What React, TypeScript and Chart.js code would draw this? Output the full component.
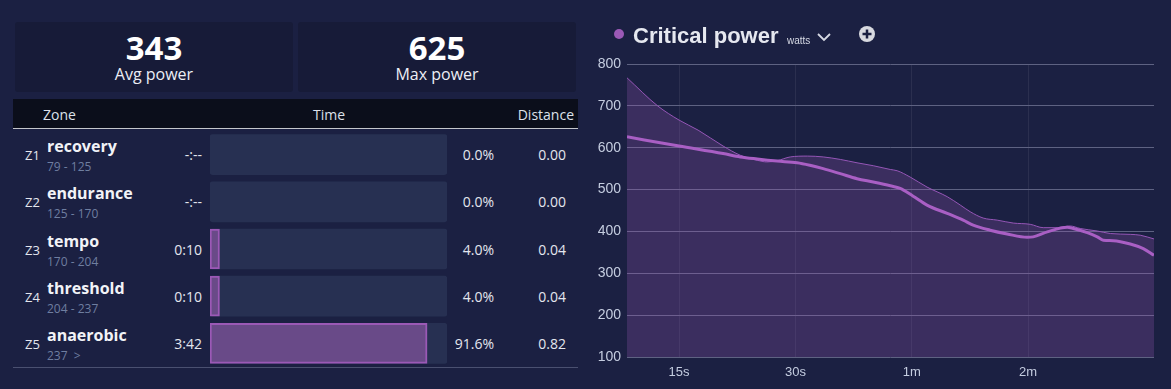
import React, { useEffect, useRef } from 'react';
import { Chart, registerables } from 'chart.js';
Chart.register(...registerables);

// ---- data ----
const statValues = ['343', '625'];
const statLabels = ['Avg power', 'Max power'];

const zoneIds = ['Z1', 'Z2', 'Z3', 'Z4', 'Z5'];
const zoneNames = ['recovery', 'endurance', 'tempo', 'threshold', 'anaerobic'];
const zoneRanges = ['79 - 125', '125 - 170', '170 - 204', '204 - 237', '237  >'];
const zoneTimes = ['-:--', '-:--', '0:10', '0:10', '3:42'];
const zonePercents = [0, 0, 4.0, 4.0, 91.6];
const zoneDistances = ['0.00', '0.00', '0.04', '0.04', '0.82'];

const rideSeconds = [11, 13.2, 15, 16.8, 19.5, 21.6, 23.9, 25.3, 26.9, 29.1, 32.2, 35.4, 39.2, 43.3, 47.7, 52.8, 55, 59.4, 65.7, 74.1, 80.1, 85, 91.8, 99.8, 109.8, 121.5, 131.3, 142.7, 154.2, 163.7, 181.2, 195.8, 220.5, 234, 254];
const rideWatts = [767, 700, 666, 642, 604, 582, 570, 566, 569, 578, 580, 578, 572, 564, 557, 548, 545, 530, 506, 483, 463, 447, 432, 427, 420, 417, 409, 409, 413, 407, 401, 395, 393, 391, 382];

const bestSeconds = [11, 15, 19.5, 21.6, 23.9, 26.9, 30.3, 32.7, 35.4, 39.2, 43.3, 47.7, 52.8, 56, 60.5, 65.7, 74.1, 81.5, 86.5, 95.7, 105.9, 119.3, 123.7, 134.5, 151.5, 157, 170.7, 181.2, 187.8, 199.3, 220.5, 238.3, 254];
const bestWatts = [626, 604, 586, 578, 573, 568, 564, 558, 550, 538, 526, 518, 509, 503, 484, 463, 443, 427, 415, 403, 394, 386, 387, 399, 410, 407, 397, 387, 379, 378, 370, 359, 343];

const xTickSeconds = [15, 30, 60, 120];
const xTickLabels = ['15s', '30s', '1m', '2m'];
const yMin = 100;
const yMax = 800;
const yStep = 100;

const BG = '#1b2042';
const SANS = "'Open Sans', 'Noto Sans', sans-serif";
const CHART_FONT = "'Liberation Sans', Arial, Helvetica, sans-serif";

function ZoneBars() {
  const ref = useRef<HTMLCanvasElement>(null);
  useEffect(() => {
    const chart = new Chart(ref.current!, {
      type: 'bar',
      data: {
        labels: zoneIds,
        datasets: [
          {
            data: zonePercents,
            backgroundColor: '#694a88',
            borderColor: '#9b59b6',
            borderWidth: 2,
            borderSkipped: false,
            barThickness: 40,
            grouped: false,
            order: 1,
          } as any,
          {
            data: zonePercents.map(() => 100),
            backgroundColor: '#273052',
            borderWidth: 0,
            borderRadius: 3,
            borderSkipped: false,
            barThickness: 40,
            grouped: false,
            order: 2,
          } as any,
        ],
      },
      options: {
        indexAxis: 'y',
        animation: false,
        responsive: false,
        maintainAspectRatio: false,
        layout: { padding: 0 },
        plugins: { legend: { display: false }, tooltip: { enabled: false } },
        scales: {
          x: { display: false, min: 0, max: 100 },
          y: { display: false },
        },
      },
    });
    return () => chart.destroy();
  }, []);
  return (
    <canvas
      ref={ref}
      width={237}
      height={236}
      style={{ position: 'absolute', left: 210, top: 131, width: 237, height: 236 }}
    />
  );
}

function CPChart() {
  const ref = useRef<HTMLCanvasElement>(null);
  useEffect(() => {
    const chart = new Chart(ref.current!, {
      type: 'line',
      data: {
        datasets: [
          {
            data: bestSeconds.map((s, i) => ({ x: s, y: bestWatts[i] })),
            borderColor: '#a95fc4',
            borderWidth: 3,
            pointRadius: 0,
            cubicInterpolationMode: 'monotone',
            fill: false,
            order: 0,
          },
          {
            data: rideSeconds.map((s, i) => ({ x: s, y: rideWatts[i] })),
            borderColor: '#9556b6',
            borderWidth: 1,
            pointRadius: 0,
            cubicInterpolationMode: 'monotone',
            fill: 'start',
            backgroundColor: 'rgba(155,89,182,0.25)',
            order: 1,
          },
        ],
      },
      options: {
        animation: false,
        responsive: false,
        maintainAspectRatio: false,
        layout: { padding: { top: 64, right: 17, left: 0, bottom: 0 } },
        plugins: { legend: { display: false }, tooltip: { enabled: false } },
        scales: {
          x: {
            type: 'logarithmic',
            min: 11,
            max: 254,
            bounds: 'data',
            afterBuildTicks: (s: any) => {
              s.ticks = xTickSeconds.map((v) => ({ value: v }));
            },
            afterFit: (s: any) => {
              s.height = 32;
            },
            grid: { color: 'rgba(255,255,255,0.07)', drawTicks: false },
            border: { display: false },
            ticks: {
              autoSkip: false,
              maxRotation: 0,
              padding: 8,
              color: '#c5cde0',
              font: { size: 13, family: CHART_FONT },
              callback: (v: any) => {
                const i = xTickSeconds.indexOf(Number(v));
                return i >= 0 ? xTickLabels[i] : '';
              },
            },
          },
          y: {
            min: yMin,
            max: yMax,
            afterFit: (s: any) => {
              s.width = 37;
            },
            grid: { color: '#5e6282', drawTicks: false },
            border: { display: false },
            ticks: {
              stepSize: yStep,
              padding: 6,
              color: '#c5cde0',
              font: { size: 14, family: CHART_FONT },
            },
          },
        },
      },
    } as any);
    return () => chart.destroy();
  }, []);
  return (
    <canvas
      ref={ref}
      width={581}
      height={389}
      style={{ position: 'absolute', left: 590, top: 0, width: 581, height: 389 }}
    />
  );
}

const abs = (o: React.CSSProperties): React.CSSProperties => ({ position: 'absolute', ...o });

function centerText(
  text: string,
  cy: number,
  style: React.CSSProperties,
  key?: string | number
) {
  return (
    <div
      key={key}
      style={abs({
        top: cy - 12,
        height: 24,
        lineHeight: '24px',
        whiteSpace: 'pre',
        ...style,
      })}
    >
      {text}
    </div>
  );
}

export default function App() {
  const rowCenters = zoneIds.map((_, i) => 154 + 47.25 * i);
  return (
    <div
      style={{
        position: 'fixed',
        left: 0,
        top: 0,
        width: 1171,
        height: 389,
        background: BG,
        overflow: 'hidden',
        fontFamily: SANS,
      }}
    >
      {/* stat boxes */}
      {statValues.map((v, i) => (
        <div
          key={v}
          style={abs({
            left: 15 + i * 283,
            top: 22,
            width: 278,
            height: 70,
            background: '#171b38',
            borderRadius: 3,
          })}
        >
          <div
            style={abs({
              left: 0,
              width: 278,
              top: 7,
              textAlign: 'center',
              fontSize: 33,
              fontWeight: 700,
              lineHeight: '38px',
              color: '#ffffff',
            })}
          >
            {v}
          </div>
          <div
            style={abs({
              left: 0,
              width: 278,
              top: 41,
              textAlign: 'center',
              fontSize: 16,
              lineHeight: '22px',
              color: '#eceef5',
            })}
          >
            {statLabels[i]}
          </div>
        </div>
      ))}

      {/* header band */}
      <div
        style={abs({
          left: 13,
          top: 99,
          width: 565,
          height: 29,
          background: '#0b0e1b',
          borderBottom: '1px solid #c4c6cc',
        })}
      />
      {centerText('Zone', 115, { left: 43, fontSize: 14, color: '#dde1ea' })}
      {centerText('Time', 115, { left: 279, width: 100, textAlign: 'center', fontSize: 14, color: '#dde1ea' })}
      {centerText('Distance', 115, { left: 474, width: 100, textAlign: 'right', fontSize: 14, color: '#dde1ea' })}

      {/* zone rows */}
      {zoneIds.map((z, i) => {
        const cy = rowCenters[i];
        return (
          <React.Fragment key={z}>
            {centerText(z, cy + 1, { left: 25, fontSize: 13, color: '#e4e6ee' })}
            {centerText(zoneNames[i], cy - 8, { left: 47, fontSize: 16, fontWeight: 700, color: '#f2f3f7' })}
            {centerText(zoneRanges[i], cy + 13, { left: 47, fontSize: 12, color: '#6f7ea0' })}
            {centerText(zoneTimes[i], cy + 1, { left: 102, width: 100, textAlign: 'right', fontSize: 14, color: '#e4e6ee' })}
            {centerText(zonePercents[i].toFixed(1) + '%', cy + 1, { left: 394, width: 100, textAlign: 'right', fontSize: 14, color: '#e4e6ee' })}
            {centerText(zoneDistances[i], cy + 1, { left: 466, width: 100, textAlign: 'right', fontSize: 14, color: '#e4e6ee' })}
          </React.Fragment>
        );
      })}
      <ZoneBars />
      <div style={abs({ left: 13, top: 367, width: 565, height: 1, background: '#4a5070' })} />

      {/* chart */}
      <CPChart />
      {/* chart title */}
      <div
        style={abs({
          left: 614,
          top: 29,
          width: 10,
          height: 10,
          borderRadius: 5,
          background: '#9b59b6',
        })}
      />
      <div
        style={abs({
          left: 633,
          top: 22,
          lineHeight: '28px',
          fontFamily: CHART_FONT,
          fontWeight: 700,
          fontSize: 22,
          color: '#e6e8f0',
          whiteSpace: 'nowrap',
        })}
      >
        Critical power
      </div>
      <div
        style={abs({
          left: 787,
          top: 35,
          lineHeight: '12px',
          fontFamily: CHART_FONT,
          fontSize: 10,
          color: '#d6d9e4',
        })}
      >
        watts
      </div>
      <svg style={abs({ left: 816, top: 30, width: 16, height: 14 })} viewBox="0 0 16 14">
        <polyline points="2,4 8,10 14,4" fill="none" stroke="#d6d9e4" strokeWidth="1.8" />
      </svg>
      <svg style={abs({ left: 858, top: 25, width: 18, height: 18 })} viewBox="0 0 18 18">
        <circle cx="9" cy="9" r="8" fill="#d8d9e0" />
        <rect x="4.5" y="7.75" width="9" height="2.5" fill={BG} />
        <rect x="7.75" y="4.5" width="2.5" height="9" fill={BG} />
      </svg>
    </div>
  );
}
